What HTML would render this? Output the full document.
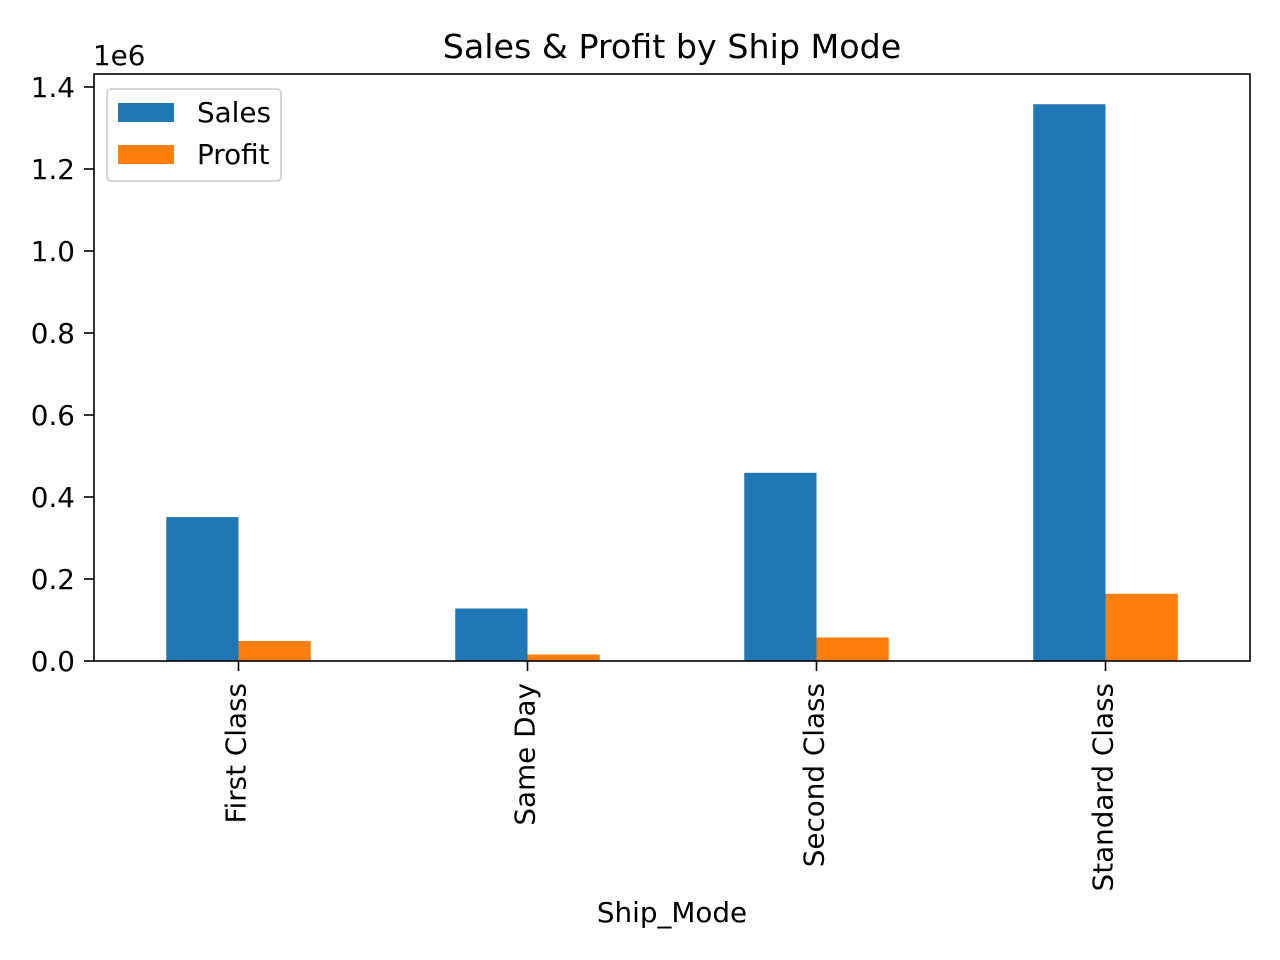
<!DOCTYPE html>
<html><head><meta charset="utf-8"><style>
html,body{margin:0;padding:0;background:#fff;}
svg{display:block;font-family:"DejaVu Sans","Liberation Sans",sans-serif;}
</style></head><body>
<svg id="chart" width="1280" height="960" viewBox="0 0 1280 960">
<rect x="0" y="0" width="1280" height="960" fill="#fff"/>
<text x="672" y="58" font-size="33.3" text-anchor="middle">Sales &amp; Profit by Ship Mode</text>
<g id="bars"></g>
<g id="yticks"></g>
<g id="xticks"></g>
<rect x="94" y="74" width="1156" height="587" fill="none" stroke="#000" stroke-width="1.6"/>
<text x="93" y="65" font-size="27.8">1e6</text>
<text x="672" y="922" font-size="27.8" text-anchor="middle">Ship_Mode</text>
<g>
<rect x="107" y="89" width="174" height="92" rx="4" fill="#fff" fill-opacity="0.8" stroke="#ccc" stroke-width="1.6"/>
<rect x="118" y="103" width="56" height="19" fill="#1f77b4"/>
<text x="197" y="122" font-size="27.8">Sales</text>
<rect x="118" y="145" width="56" height="19" fill="#ff7f0e"/>
<text x="197" y="164" font-size="27.8">Profit</text>
</g>
</svg>
<script>
const categories = ["First Class","Same Day","Second Class","Standard Class"];
const salesValues = [351000, 128000, 459000, 1358000];
const profitValues = [48900, 15900, 57400, 164000];
const yTickValues = [0, 0.2, 0.4, 0.6, 0.8, 1.0, 1.2, 1.4];
const yTickLabels = ["0.0","0.2","0.4","0.6","0.8","1.0","1.2","1.4"];

const NS = "http://www.w3.org/2000/svg";
const L = 94, R = 1250, T = 74, B = 661, YMAX = 1.4317e6;
const y = v => B - v / YMAX * (B - T);
const step = (R - L) / categories.length;
const xc = i => L + step * (i + 0.5);
const bw = step / 4;
function mk(tag, attrs, parent) {
  const e = document.createElementNS(NS, tag);
  for (const k in attrs) e.setAttribute(k, attrs[k]);
  parent.appendChild(e);
  return e;
}
const bars = document.getElementById('bars');
categories.forEach((c, i) => {
  const s = mk('rect', {x: xc(i) - bw, y: y(salesValues[i]), width: bw, height: B - y(salesValues[i]), fill: '#1f77b4'}, bars);
  
  
  const p = mk('rect', {x: xc(i), y: y(profitValues[i]), width: bw, height: B - y(profitValues[i]), fill: '#ff7f0e'}, bars);
  
  
});
const yt = document.getElementById('yticks');
yTickValues.forEach((v, i) => {
  const yy = y(v * 1e6);
  const ln = mk('line', {x1: L - 10, x2: L, y1: yy, y2: yy, stroke: '#000', 'stroke-width': 1.6}, yt);
  
  
  const t = mk('text', {x: L - 19, y: yy + 10, 'font-size': 27.8, 'text-anchor': 'end'}, yt);
  t.textContent = yTickLabels[i];
  
  
});
const xt = document.getElementById('xticks');
categories.forEach((c, i) => {
  const x = xc(i);
  const ln = mk('line', {x1: x, x2: x, y1: B, y2: B + 10, stroke: '#000', 'stroke-width': 1.6}, xt);
  
  
  const t = mk('text', {x: 0, y: 0, 'font-size': 27.8, 'text-anchor': 'end', transform: `translate(${x + 7},${B + 22}) rotate(-90)`}, xt);
  t.textContent = c;
  
  
});
</script>
</body></html>
